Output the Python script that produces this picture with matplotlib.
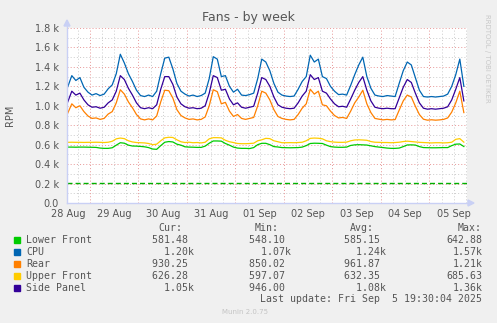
import numpy as np
import matplotlib
matplotlib.use("Agg")
import matplotlib.pyplot as plt
from matplotlib.lines import Line2D
from matplotlib.patches import Polygon, Rectangle

plt.rcParams["lines.scale_dashes"] = False

# ---- data: hours since 28 Aug 00:00, one sample every 2 hours ----
hours = np.arange(13, 210, 2)

lower_front = [575, 575, 574, 575, 575, 574, 573, 572, 565, 562,
               562, 568, 595, 620, 615, 595, 586, 585, 582, 578,
               570, 555, 552, 590, 625, 632, 628, 605, 595, 578,
               575, 574, 572, 572, 585, 615, 638, 638, 636, 612,
               595, 575, 565, 562, 562, 560, 570, 600, 614, 614,
               600, 580, 576, 570, 569, 568, 569, 570, 575, 590,
               612, 615, 614, 612, 595, 580, 575, 573, 573, 575,
               592, 598, 600, 598, 596, 588, 580, 575, 570, 565,
               562, 562, 565, 580, 597, 598, 596, 580, 570, 569,
               568, 568, 569, 570, 570, 590, 605, 607, 581]

cpu = [1196, 1310, 1260, 1290, 1190, 1140, 1110, 1125, 1105, 1120,
       1175, 1215, 1330, 1530, 1440, 1330, 1250, 1160, 1105, 1095,
       1110, 1095, 1150, 1330, 1490, 1500, 1380, 1230, 1150, 1120,
       1100, 1110, 1095, 1105, 1130, 1280, 1505, 1480, 1300, 1310,
       1200, 1140, 1170, 1110, 1105, 1115, 1130, 1280, 1480, 1450,
       1360, 1230, 1140, 1110, 1100, 1095, 1100, 1170, 1250, 1300,
       1520, 1450, 1480, 1300, 1280, 1200, 1150, 1115, 1120, 1110,
       1210, 1320, 1420, 1500, 1300, 1180, 1110, 1100, 1095, 1105,
       1100, 1095, 1230, 1360, 1450, 1420, 1290, 1160, 1095, 1090,
       1095, 1090, 1095, 1100, 1120, 1200, 1320, 1480, 1200]

rear = [925, 1020, 980, 1000, 940, 895, 870, 875, 860, 870,
        915, 940, 1030, 1165, 1120, 1040, 980, 910, 865, 855,
        865, 855, 895, 1040, 1160, 1155, 1080, 960, 900, 875,
        860, 865, 855, 860, 885, 1000, 1165, 1145, 1020, 1035,
        945, 890, 910, 870, 860, 870, 880, 1000, 1150, 1130,
        1060, 960, 890, 870, 860, 855, 860, 910, 975, 1020,
        1170, 1120, 1150, 1010, 1000, 945, 900, 875, 880, 870,
        945, 1030, 1090, 1160, 1020, 930, 870, 862, 855, 860,
        855, 858, 955, 1050, 1110, 1090, 995, 910, 862, 852,
        856, 852, 855, 860, 875, 935, 1030, 1150, 930]

upper_front = [624, 625, 624, 624, 623, 624, 624, 625, 624, 622,
               625, 635, 660, 668, 662, 640, 628, 622, 620, 618,
               612, 600, 605, 640, 670, 676, 674, 650, 630, 622,
               625, 620, 622, 618, 625, 660, 672, 672, 670, 645,
               630, 622, 612, 610, 610, 612, 615, 640, 650, 665,
               662, 640, 630, 620, 620, 621, 620, 622, 625, 640,
               665, 668, 666, 660, 640, 631, 626, 624, 624, 626,
               640, 648, 650, 648, 645, 632, 625, 624, 622, 622,
               620, 622, 625, 632, 636, 632, 628, 624, 622, 620,
               618, 620, 620, 618, 620, 625, 655, 662, 626]

side_panel = [1040, 1150, 1110, 1130, 1060, 1010, 985, 990, 975, 985,
              1030, 1060, 1150, 1310, 1270, 1180, 1110, 1030, 980, 970,
              980, 970, 1010, 1170, 1300, 1300, 1220, 1090, 1020, 990,
              975, 980, 970, 975, 1000, 1130, 1310, 1290, 1160, 1170,
              1070, 1010, 1030, 985, 975, 985, 995, 1130, 1290, 1270,
              1200, 1090, 1010, 985, 975, 970, 975, 1030, 1100, 1150,
              1320, 1270, 1290, 1150, 1130, 1070, 1020, 990, 995, 985,
              1070, 1160, 1240, 1300, 1160, 1050, 985, 975, 970, 975,
              970, 970, 1080, 1190, 1270, 1240, 1130, 1030, 975, 965,
              970, 965, 970, 975, 990, 1060, 1170, 1290, 1050]

low_limit = 205

series_names = ["Lower Front", "CPU", "Rear", "Upper Front", "Side Panel"]
series_colors = ["#00CC00", "#0066B3", "#FF8000", "#FFCC00", "#330099"]
cur_txt = ["581.48 ", "  1.20k", "930.25 ", "626.28 ", "  1.05k"]
min_txt = ["548.10 ", "  1.07k", "850.02 ", "597.07 ", "946.00 "]
avg_txt = ["585.15 ", "  1.24k", "961.87 ", "632.35 ", "  1.08k"]
max_txt = ["642.88", "1.57k", "1.21k", "685.63", "1.36k"]

day_labels = ["28 Aug", "29 Aug", "30 Aug", "31 Aug", "01 Sep",
              "02 Sep", "03 Sep", "04 Sep", "05 Sep"]
y_ticks = [0, 200, 400, 600, 800, 1000, 1200, 1400, 1600, 1800]
y_labels = ["0.0", "0.2 k", "0.4 k", "0.6 k", "0.8 k", "1.0 k",
            "1.2 k", "1.4 k", "1.6 k", "1.8 k"]

# ---- figure geometry (pixels) ----
W, H, DPI = 497, 323, 100
fig = plt.figure(figsize=(W / DPI, H / DPI), dpi=DPI, facecolor="#F0F0F0")


def fx(px):
    return px / W


def fy(py):
    return 1 - py / H


L, R, T, B = 67, 467, 28, 203
ax = fig.add_axes([fx(L), fy(B), (R - L) / W, (B - T) / H])
ax.set_facecolor("white")
for s in ax.spines.values():
    s.set_visible(False)

t_left, t_right = 12.62, 210.56
ax.set_xlim(t_left, t_right)
ax.set_ylim(0, 1800)

TXT = "#555555"
GRID_MINOR = "#D0D0D0"
GRID_MAJOR = "#E9A0A0"
dot = (0, (0.75, 1.5))

# grid lines
for v in range(100, 1800, 200):
    ax.axhline(v, color=GRID_MINOR, lw=0.72, ls=dot, zorder=1)
for v in range(200, 1801, 200):
    ax.axhline(v, color=GRID_MAJOR, lw=0.72, ls=dot, zorder=1)
for h in range(18, 211, 6):
    if h % 24:
        ax.axvline(h, color=GRID_MINOR, lw=0.72, ls=dot, zorder=1)
for h in range(24, 211, 24):
    ax.axvline(h, color=GRID_MAJOR, lw=0.72, ls=dot, zorder=1)

# warning threshold
ax.axhline(low_limit, color="#00B000", lw=1.0, dashes=(3.6, 2.2), zorder=2)

data = [lower_front, cpu, rear, upper_front, side_panel]
for vals, col in zip(data, series_colors):
    ax.plot(hours, vals, color=col, lw=0.9, zorder=3)

# ticks
ax.set_yticks(y_ticks)
ax.set_yticklabels(y_labels)
noon = [12 + 24 * d for d in range(len(day_labels))]
noon[0] = max(noon[0], t_left + 0.6)
ax.set_xticks(noon)
ax.set_xticklabels(day_labels)
ax.tick_params(length=0, labelsize=7, labelcolor=TXT)
ax.tick_params(axis="y", pad=6)
ax.tick_params(axis="x", pad=4)

# axis lines with arrows
AX = "#C9D0F5"
fig.add_artist(Line2D([fx(L), fx(L)], [fy(B), fy(T - 4)], color=AX, lw=1))
fig.add_artist(Line2D([fx(L), fx(R + 2)], [fy(B), fy(B)], color=AX, lw=1))
fig.add_artist(Polygon([(fx(L - 3), fy(T - 2)), (fx(L + 3), fy(T - 2)),
                        (fx(L), fy(T - 8))], closed=True, color=AX))
fig.add_artist(Polygon([(fx(R + 1), fy(B - 3)), (fx(R + 1), fy(B + 3)),
                        (fx(R + 7), fy(B))], closed=True, color=AX))

# titles
fig.text(fx(248), fy(18), "Fans - by week", ha="center", va="center",
         fontsize=9, color=TXT)
fig.text(fx(10), fy(115), "RPM", rotation=90, ha="center", va="center",
         fontsize=7, color=TXT)
fig.text(fx(487), fy(58), "RRDTOOL / TOBI OETIKER", rotation=270,
         ha="center", va="center", fontsize=5, color="#C8C8C8")

# legend
MONO = "DejaVu Sans Mono"
LS = 7.1
fig.text(fx(158), fy(228), "Cur:", fontsize=LS, family=MONO, color=TXT,
         va="center", ha="left")
fig.text(fx(255), fy(228), "Min:", fontsize=LS, family=MONO, color=TXT,
         va="center", ha="left")
fig.text(fx(350), fy(228), "Avg:", fontsize=LS, family=MONO, color=TXT,
         va="center", ha="left")
fig.text(fx(482), fy(228), "Max:", fontsize=LS, family=MONO, color=TXT,
         va="center", ha="right")
for i, name in enumerate(series_names):
    y = 240 + 12 * i
    fig.add_artist(Rectangle((fx(14), fy(y + 3)), 6 / W, 6 / H,
                             color=series_colors[i]))
    fig.text(fx(26), fy(y), name, fontsize=LS, family=MONO, color=TXT,
             va="center", ha="left")
    fig.text(fx(152.5), fy(y), cur_txt[i], fontsize=LS, family=MONO,
             color=TXT, va="center", ha="left")
    fig.text(fx(249), fy(y), min_txt[i], fontsize=LS, family=MONO,
             color=TXT, va="center", ha="left")
    fig.text(fx(344.5), fy(y), avg_txt[i], fontsize=LS, family=MONO,
             color=TXT, va="center", ha="left")
    fig.text(fx(482.3), fy(y), max_txt[i], fontsize=LS, family=MONO,
             color=TXT, va="center", ha="right")

fig.text(fx(482.3), fy(299.5), "Last update: Fri Sep  5 19:30:04 2025",
         fontsize=LS, family=MONO, color=TXT, va="center", ha="right")
fig.text(fx(245), fy(312), "Munin 2.0.75", fontsize=5, color="#C4C4C4",
         va="center", ha="center")

fig.savefig("out.png", dpi=DPI, facecolor=fig.get_facecolor())
